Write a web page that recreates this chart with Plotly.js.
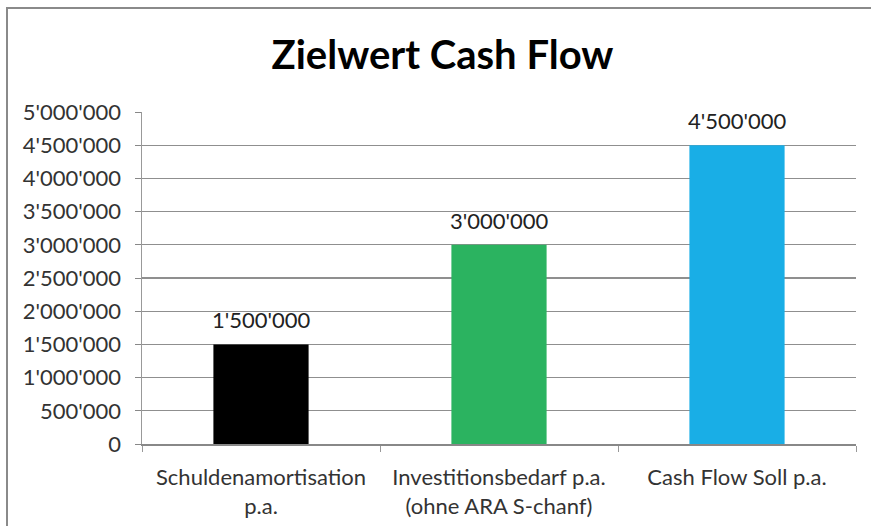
<!DOCTYPE html>
<html>
<head>
<meta charset="utf-8">
<script src="https://cdn.plot.ly/plotly-3.0.1.min.js"></script>
<style>
html,body{margin:0;padding:0;background:#fff;}
#chart{position:absolute;left:0;top:0;width:871px;height:526px;}
#frame{position:absolute;left:6px;top:7px;width:880px;height:540px;border:2px solid #8a8a8a;pointer-events:none;box-sizing:border-box;}
</style>
</head>
<body>
<div id="chart"></div>
<div id="frame"></div>
<script>
var categories = ["Schuldenamortisation<br>p.a.", "Investitionsbedarf p.a.<br>(ohne ARA S-chanf)", "Cash Flow Soll p.a."];
var values = [1500000, 3000000, 4500000];
var valueLabels = ["1'500'000", "3'000'000", "4'500'000"];
var barColors = ["#000000", "#2bb360", "#19aee6"];
var titleText = "Zielwert Cash Flow";

var font = "Lato, 'Open Sans', 'DejaVu Sans', sans-serif";

var trace = {
  type: "bar",
  x: categories,
  y: values,
  marker: {color: barColors},
  width: 0.4,
  hoverinfo: "skip"
};

var annotations = categories.map(function (c, i) {
  return {
    x: c, y: values[i], xref: "x", yref: "y",
    text: valueLabels[i], showarrow: false,
    yanchor: "bottom", yshift: 9,
    font: {family: font, size: 22, color: "#222"}
  };
});

var layout = {
  width: 871,
  height: 526,
  separators: ".'",
  margin: {l: 142, r: 15, t: 112, b: 82},
  paper_bgcolor: "#fff",
  plot_bgcolor: "#fff",
  showlegend: false,
  annotations: annotations,
  title: {
    text: "<b>" + titleText + "</b>",
    font: {family: font, size: 40, color: "#000"},
    x: 0.508, xanchor: "center",
    y: 0.895, yanchor: "middle"
  },
  xaxis: {
    type: "category",
    showgrid: false,
    showline: true,
    linecolor: "#888",
    linewidth: 1.5,
    ticks: "outside",
    tickson: "boundaries",
    ticklen: 6,
    tickcolor: "#999",
    ticklabelstandoff: 13,
    tickfont: {family: font, size: 22, color: "#333"},
    fixedrange: true
  },
  yaxis: {
    range: [0, 5000000],
    dtick: 500000,
    tickformat: ",d",
    showgrid: true,
    gridcolor: "#8f8f8f",
    gridwidth: 1.2,
    showline: true,
    linecolor: "#999",
    linewidth: 1.5,
    ticks: "outside",
    ticklen: 6,
    tickcolor: "#888",
    ticklabelstandoff: 9,
    zeroline: false,
    tickfont: {family: font, size: 22, color: "#333"},
    fixedrange: true
  },
  bargap: 0.6
};

Plotly.newPlot("chart", [trace], layout, {displayModeBar: false, staticPlot: true});
</script>
</body>
</html>
